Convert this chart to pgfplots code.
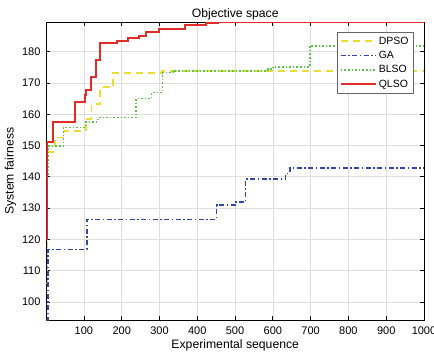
\documentclass[border=0pt]{standalone}
\usepackage{pgfplots}
\pgfplotsset{compat=1.18}
\usepackage{fontspec}
\setmainfont{Liberation Sans}
\definecolor{cdpso}{RGB}{236,221,52}
\definecolor{cga}{RGB}{50,70,170}
\definecolor{cblso}{RGB}{90,200,70}
\definecolor{cqlso}{RGB}{225,45,40}
\definecolor{gridc}{RGB}{222,222,222}
\begin{document}
\begin{tikzpicture}
\begin{axis}[
  name=ax,
  scale only axis,
  width=377.5pt, height=297.7pt,
  xmin=1, xmax=1000, ymin=94.2, ymax=189.4,
  xtick={100,200,...,1000},
  ytick={100,110,...,180},
  /pgf/number format/assume math mode=true,
  /pgf/number format/1000 sep={},
  tick label style={font=\fontsize{11}{13}\selectfont},
  xticklabel style={yshift=-3pt},
  yticklabel style={xshift=-2.5pt},
  label style={font=\fontsize{12.2}{14}\selectfont},
  xlabel style={yshift=1.5pt},
  ylabel style={yshift=-1pt},
  title style={font=\fontsize{12.2}{14}\selectfont, yshift=-7pt},
  title={Objective space},
  xlabel={Experimental sequence},
  ylabel={System fairness},
  grid=major,
  major grid style={color=gridc, line width=0.6pt},
  tick align=inside,
  tick pos=both,
  major tick length=4pt,
  axis line style={black, line width=0.8pt},
  every tick/.style={black, line width=0.7pt},
  legend style={at={(0.972,0.968)}, anchor=north east,
    font=\fontsize{10.5}{13}\selectfont, draw=black!60, line width=0.8pt,
    inner sep=2.5pt, row sep=1.5pt, cells={anchor=west}},
  legend image code/.code={\draw[#1] (0pt,0pt) -- (35pt,0pt);},
]
\addplot[const plot, color=cdpso, line width=1.7pt, dash pattern=on 7pt off 5pt] coordinates {
(1,106) (4,148) (23,152.6) (49,154.7) (106,158.5) (120,163.2) (143,168.6) (177,173.2) (305,173.8) (1000,173.8)
};
\addlegendentry{DPSO}
\addplot[const plot, color=cga, line width=1.6pt, dash pattern=on 5pt off 2.5pt on 1.5pt off 2.5pt] coordinates {
(1,94.2) (5,116.8) (108,126.4) (451,130.9) (502,132) (528,139.3) (634,141.1) (645,142.9) (1000,142.9)
};
\addlegendentry{GA}
\addplot[const plot, color=cblso, line width=1.6pt, dash pattern=on 1.6pt off 2pt] coordinates {
(1,140) (6,149.8) (46,155.8) (106,157.6) (137,158.9) (238,165) (279,166.9) (308,173.3) (336,173.9) (587,174.4) (600,175.2) (698,181.9) (1000,181.9)
};
\addlegendentry{BLSO}
\addplot[const plot, color=cqlso, line width=2pt] coordinates {
(1,120) (2,151) (18,157.5) (77,164) (102,166) (106,167.7) (118,171.8) (131,177.3) (142,182.9) (187,183.4) (217,184.5) (246,185.1) (264,186.4) (299,187.4) (367,188.5) (424,189.2) (455,189.4) (1000,189.4)
};
\addlegendentry{QLSO}
\end{axis}
\pgfresetboundingbox
\path[use as bounding box] (ax.south west) ++(-46.5pt,-39pt) rectangle ++(434pt,359pt);
\end{tikzpicture}
\end{document}
